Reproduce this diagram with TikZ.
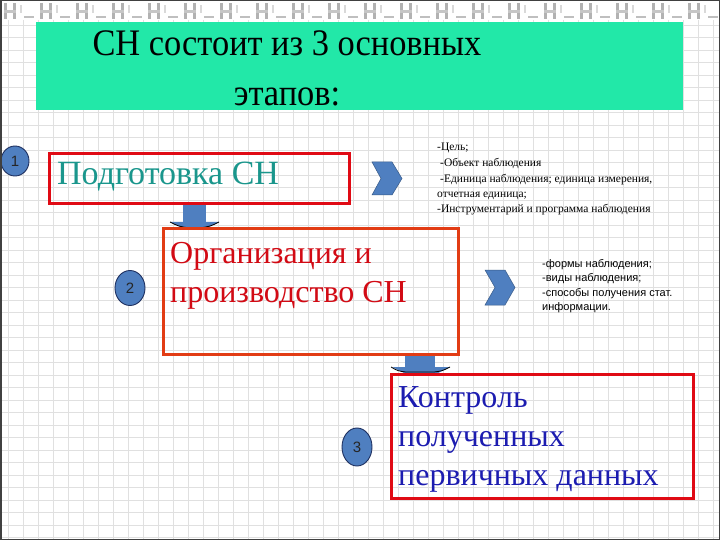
\documentclass[tikz,border=0pt]{standalone}
\usepackage{fontspec}
\usepackage{graphicx}
\setmainfont{Liberation Serif}
\newfontfamily\arialfont{Liberation Sans}
\usetikzlibrary{shapes.geometric}
\definecolor{titlegreen}{RGB}{34,232,168}
\definecolor{tealtext}{RGB}{26,150,140}
\definecolor{boxred}{RGB}{224,10,20}
\definecolor{boxorange}{RGB}{226,60,20}
\definecolor{redtext}{RGB}{210,10,20}
\definecolor{bluetext}{RGB}{28,28,176}
\definecolor{shapeblue}{RGB}{79,127,192}
\definecolor{shapeedge}{RGB}{30,48,96}
\definecolor{gridc}{RGB}{224,224,224}
\tikzset{
  gridline/.style={gridc, line width=0.6pt},
  stagebox/.style={draw, line width=2.6pt, anchor=north west, inner sep=0pt},
  numcircle/.style={ellipse, draw=shapeedge, fill=shapeblue, line width=0.9pt, inner sep=0pt, text=black!85, font=\arialfont\fontsize{15}{15}\selectfont},
  chevronshape/.style={fill=shapeblue, draw=shapeblue!70!black, line width=0.5pt},
  downarrow/.style={fill=shapeblue, draw=none},
  titletext/.style={anchor=base, inner sep=0pt, font=\fontsize{36}{36}\selectfont},
  bigtext/.style={anchor=base west, inner sep=0pt, font=\fontsize{32}{32}\selectfont},
  smallserif/.style={anchor=base west, inner sep=0pt, font=\fontsize{11.5}{11.5}\selectfont},
  smallsans/.style={anchor=base west, inner sep=0pt, font=\arialfont\fontsize{11}{11}\selectfont},
}
\begin{document}
\begin{tikzpicture}[x=1pt,y=-1pt]
\useasboundingbox (0,0) rectangle (720,540);
\fill[white] (0,0) rectangle (720,540);
% graph paper
\foreach \x in {8,23,...,720} \draw[gridline] (\x,20) -- (\x,540);
\foreach \y in {25,37.5,...,540} \draw[gridline] (0,\y) -- (720,\y);
% top decoration
\foreach \x in {4,40,...,700} {
  \fill[gray!60] (\x,3) rectangle ++(3,16);
  \fill[gray!60] (\x+9,3) rectangle ++(3,16);
  \fill[gray!45] (\x,10) rectangle ++(12,3);
  \fill[gray!50] (\x+20,16) rectangle ++(10,2);
  \fill[gray!30] (\x+16,5) rectangle ++(2,8);
}
% title band
\node[fill=titlegreen, anchor=north west, inner sep=0pt, minimum width=647pt, minimum height=88pt] (band) at (36,22) {};
\node[titletext] (title1) at (287,56) {\scalebox{0.955}[1.04]{СН состоит из 3 основных}};
\node[titletext] (title2) at (287,106) {\scalebox{0.955}[1.04]{этапов:}};
% down arrows
\fill[downarrow] (183,204) rectangle (206,223);
\fill[downarrow] (170,222) -- (219,222) -- (207,228) -- (182,228) -- cycle;
\draw[black, line width=0.8pt] (170,222) .. controls (178,226) .. (186,227.5) -- (203,227.5) .. controls (211,226) .. (219,222);
\fill[downarrow] (405,355) rectangle (435,368);
\fill[downarrow] (392,367) -- (450,367) -- (438,373) -- (404,373) -- cycle;
\draw[black, line width=0.8pt] (391,367) .. controls (398,371) .. (406,372) -- (434,372) .. controls (442,371) .. (450,367);
% boxes
\node[stagebox, draw=boxred, minimum width=300pt, minimum height=50pt] (box1) at (48,152) {};
\node[stagebox, draw=boxorange, minimum width=295pt, minimum height=126pt] (box2) at (162,227) {};
\node[stagebox, draw=boxred, minimum width=302pt, minimum height=124pt] (box3) at (390,373) {};
\node[bigtext, tealtext, font=\fontsize{34}{34}\selectfont] (b1t) at (57,185) {Подготовка СН};
\node[bigtext, redtext] (b2a) at (170,263) {Организация и};
\node[bigtext, redtext] (b2b) at (170,302) {производство СН};
\node[bigtext, bluetext] (b3a) at (398,407) {Контроль};
\node[bigtext, bluetext] (b3b) at (398,446) {полученных};
\node[bigtext, bluetext] (b3c) at (398,485) {первичных данных};
% number circles
\node[numcircle, minimum width=28pt, minimum height=30pt] (c1) at (15,161) {1};
\node[numcircle, minimum width=30pt, minimum height=35pt] (c2) at (130,288) {2};
\node[numcircle, minimum width=30pt, minimum height=38pt] (c3) at (357,447) {3};
% chevrons
\draw[chevronshape] (372,162) -- (392,162) -- (402,178.5) -- (392,195) -- (372,195) -- (381,178.5) -- cycle;
\draw[chevronshape] (485,270) -- (505,270) -- (515,287.5) -- (505,305) -- (485,305) -- (495,287.5) -- cycle;
% detail texts
\node[smallserif] (d1a) at (437,151) {-Цель;};
\node[smallserif] (d1b) at (440,167) {-Объект наблюдения};
\node[smallserif] (d1c) at (440,183) {-Единица наблюдения; единица измерения,};
\node[smallserif] (d1d) at (437,198) {отчетная единица;};
\node[smallserif] (d1e) at (437,213) {-Инструментарий и программа наблюдения};
\node[smallsans] (d2a) at (542,267) {-формы наблюдения;};
\node[smallsans] (d2b) at (542,281.5) {-виды наблюдения;};
\node[smallsans] (d2c) at (542,296) {-способы получения стат.};
\node[smallsans] (d2d) at (542,310.5) {информации.};
% frame
\draw[black!75, line width=1.5pt] (0.75,0.75) rectangle (719.25,539.25);
\end{tikzpicture}
\end{document}
